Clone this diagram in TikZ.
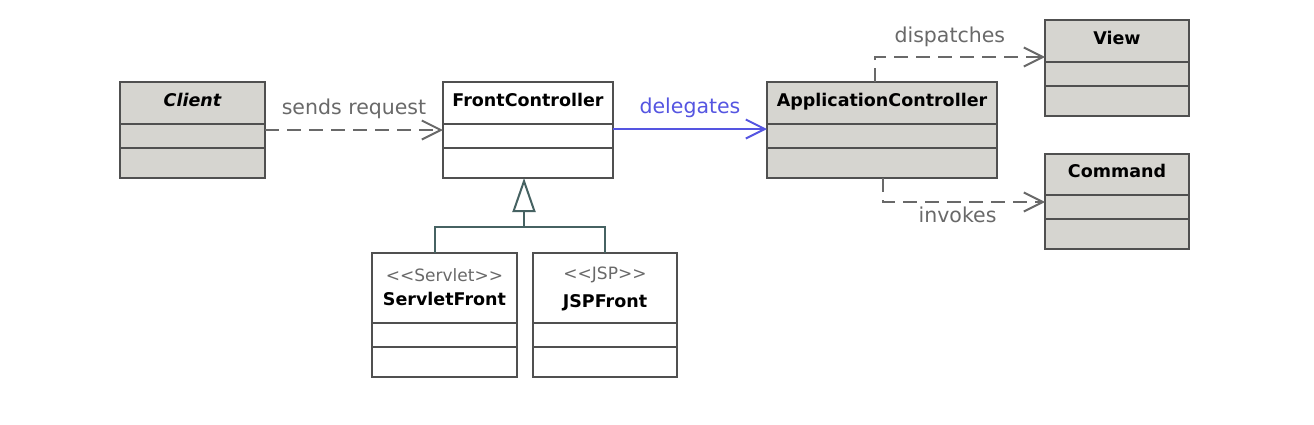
\documentclass[tikz,border=0pt]{standalone}
\usepackage{fontspec}
\setmainfont{DejaVu Sans}
\usetikzlibrary{arrows.meta,positioning}

\definecolor{clsgray}{RGB}{214,213,208}
\definecolor{clsline}{RGB}{80,80,80}
\definecolor{lblgray}{RGB}{105,105,105}
\definecolor{delblue}{RGB}{85,85,225}
\definecolor{genline}{RGB}{70,98,98}

\tikzset{
  every picture/.style={line width=1.5pt},
  cls/.style={draw=clsline, line width=2pt, anchor=north west, inner sep=0pt, outer sep=0pt, align=center},
  onename/.style={text height=13pt, text depth=7pt},
  lbl/.style={font=\fontsize{20.5}{24}\selectfont, text=lblgray},
  dep/.style={draw=lblgray, line width=2pt, dash pattern=on 14pt off 8pt, -{Straight Barb[length=19pt,width=19pt]}},
  gen/.style={draw=genline, line width=2pt}
}

% class box: name, position, width, name height, options, name text
\newcommand{\umlclass}[6]{%
  \node[cls, #5, minimum width=#3pt, minimum height=#4pt] (#1) at (#2) {#6};
  \node[cls, #5, minimum width=#3pt, minimum height=24pt, text height=, text depth=] (#1A) at (#1.south west) {};
  \node[cls, #5, minimum width=#3pt, minimum height=30pt, text height=, text depth=] (#1B) at (#1A.south west) {};
}
\newcommand{\clsfont}{\fontsize{17.5}{21}\selectfont\bfseries}
\newcommand{\stereofont}{\fontsize{17}{20}\selectfont\color{lblgray}}

\begin{document}
\begin{tikzpicture}[x=1pt,y=1pt,yscale=-1,xscale=1]
  \useasboundingbox (0,0) rectangle (1314,424);

  % classes
  \umlclass{client}{120,82}{145}{42}{fill=clsgray, onename}{\clsfont\itshape Client}
  \umlclass{fc}{443,82}{170}{42}{fill=white, onename}{\clsfont FrontController}
  \umlclass{appc}{767,82}{230}{42}{fill=clsgray, onename}{\clsfont ApplicationController}
  \umlclass{view}{1045,20}{144}{42}{fill=clsgray, onename}{\clsfont View}
  \umlclass{cmd}{1045,154}{144}{41}{fill=clsgray, onename}{\clsfont Command}
  \umlclass{servlet}{372,253}{145}{70}{fill=white}{{\stereofont <\kern0pt<Servlet>\kern0pt>}\\[10pt]\clsfont ServletFront\\[-14pt]\strut}
  \umlclass{jsp}{533,253}{144}{70}{fill=white}{{\stereofont <\kern0pt<JSP>\kern0pt>}\\[10pt]\clsfont JSPFront\\[-14pt]\strut}

  % dependencies
  \draw[dep] ([yshift=-6pt]clientA.east) -- node[lbl, above=7pt] (sendlbl) {sends request} ([yshift=-6pt]fcA.west);
  \draw[draw=delblue, line width=2pt, -{Straight Barb[length=19pt,width=19pt]}] ([yshift=-7pt]fcA.east) -- node[lbl, text=delblue, above=7pt] (dellbl) {delegates} ([yshift=-7pt]appcA.west);
  \draw[dep] ([xshift=-7pt]appc.north) |- node[lbl, above=6pt, pos=0.72] (displbl) {dispatches} ([yshift=-5pt]view.south west);
  \draw[dep] ([xshift=1pt]appcB.south) |- node[lbl, below=1pt, pos=0.73] (invlbl) {invokes} ([yshift=7pt]cmdA.north west);

  % generalization
  \coordinate (genbar) at ([xshift=-4pt,yshift=49pt]fcB.south);
  \draw[gen] ([xshift=-10pt]servlet.north) |- (genbar) -| (jsp.north);
  \draw[gen, -{Triangle[open, length=34pt, width=23pt, fill=white]}] (genbar) -- ([xshift=-4pt]fcB.south);
\end{tikzpicture}
\end{document}
